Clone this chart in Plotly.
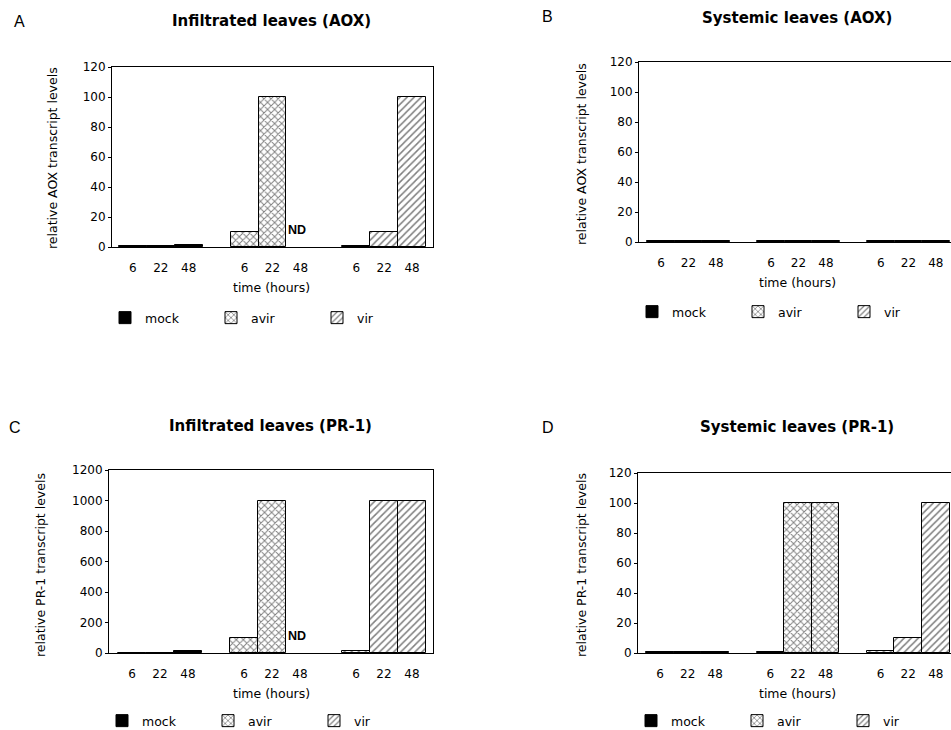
import plotly.graph_objects as go

W, H = 951, 730

times = ["6", "22", "48"]
treatments = ["mock", "avir", "vir"]

# panel values (relative transcript levels), None = not determined (ND)
A_mock = [1, 1, 1.5]
A_avir = [10, 100, None]
A_vir = [1, 10, 100]

B_mock = [0.5, 0.5, 0.5]
B_avir = [0.7, 0.7, 0.7]
B_vir = [1, 1, 1]

C_mock = [3, 3, 10]
C_avir = [100, 1000, None]
C_vir = [10, 1000, 1000]

D_mock = [0.5, 0.5, 0.8]
D_avir = [0.5, 100, 100]
D_vir = [1.5, 10, 100]

panels = [
    dict(letter="A", title="Infiltrated leaves (AOX)", ytitle="relative AOX transcript levels",
         data=[A_mock, A_avir, A_vir], ymax=120, dtick=20,
         px=(112, 433), py=(67, 247), xr=(-0.75, 10.75), rborder=True,
         letter_xy=(12, 21), title_xy=(271, 21), ytitle_xy=(52, 158), xtitle_xy=(271, 287),
         leg_xy=(112, 318)),
    dict(letter="B", title="Systemic leaves (AOX)", ytitle="relative AOX transcript levels",
         data=[B_mock, B_avir, B_vir], ymax=120, dtick=20,
         px=(639, 951), py=(62, 242), xr=(-0.8, 10.55), rborder=False,
         letter_xy=(540, 17), title_xy=(797, 18), ytitle_xy=(581, 154), xtitle_xy=(797, 282),
         leg_xy=(639, 312)),
    dict(letter="C", title="Infiltrated leaves (PR-1)", ytitle="relative PR-1 transcript levels",
         data=[C_mock, C_avir, C_vir], ymax=1200, dtick=200,
         px=(109, 433), py=(470, 653), xr=(-0.82, 10.75), rborder=True,
         letter_xy=(7, 427), title_xy=(270, 426), ytitle_xy=(40, 565), xtitle_xy=(271, 693),
         leg_xy=(109, 721)),
    dict(letter="D", title="Systemic leaves (PR-1)", ytitle="relative PR-1 transcript levels",
         data=[D_mock, D_avir, D_vir], ymax=120, dtick=20,
         px=(638, 951), py=(473, 653), xr=(-0.8, 10.55), rborder=False,
         letter_xy=(540, 427), title_xy=(797, 427), ytitle_xy=(581, 565), xtitle_xy=(797, 693),
         leg_xy=(638, 721)),
]

styles = {
    "mock": dict(color="black", line=dict(color="black", width=1)),
    "avir": dict(color="white", line=dict(color="black", width=1),
                 pattern=dict(shape="x", size=5, solidity=0.35, fgcolor="black", bgcolor="white")),
    "vir": dict(color="white", line=dict(color="black", width=1),
                pattern=dict(shape="/", size=5, solidity=0.3, fgcolor="black", bgcolor="white")),
}

FONT = "DejaVu Sans"
fig = go.Figure()
annotations = []
layout = {}

for i, p in enumerate(panels):
    n = i + 1
    xa = "x" if n == 1 else f"x{n}"
    ya = "y" if n == 1 else f"y{n}"
    lg = "legend" if n == 1 else f"legend{n}"
    tickvals, ticktext = [], []
    for g, (name, vals) in enumerate(zip(treatments, p["data"])):
        xs = [g * 4 + t for t in range(len(times))]
        tickvals += xs
        ticktext += times
        fig.add_trace(go.Bar(x=xs, y=vals, name=name, marker=styles[name], width=1,
                             xaxis=xa, yaxis=ya, legend=lg, showlegend=True))
        for x, v in zip(xs, vals):
            if v is None:
                annotations.append(dict(x=x - 0.5, y=0, xref=xa, yref=ya, text="<b>ND</b>",
                                        showarrow=False, xanchor="left", yanchor="bottom",
                                        xshift=0, yshift=8,
                                        font=dict(family="Liberation Sans", size=12.5, color="black")))
    x0, x1 = p["px"]
    y0, y1 = p["py"]
    layout[f"xaxis{'' if n == 1 else n}"] = dict(
        domain=[x0 / W, min(x1 / W, 1)], range=list(p["xr"]), anchor=ya,
        tickvals=tickvals, ticktext=ticktext, showgrid=False, zeroline=False,
        showline=True, linecolor="black", linewidth=1, mirror=True,
        ticks="outside", ticklen=10, tickcolor="rgba(0,0,0,0)", automargin=False,
        tickfont=dict(family=FONT, size=12, color="black"), fixedrange=True)
    layout[f"yaxis{'' if n == 1 else n}"] = dict(
        domain=[1 - y1 / H, 1 - y0 / H], range=[0, p["ymax"]], dtick=p["dtick"], anchor=xa,
        showgrid=False, zeroline=False, showline=True, linecolor="black", linewidth=1,
        mirror=p["rborder"], ticks="outside", ticklen=3, tickcolor="black", automargin=False,
        tickfont=dict(family=FONT, size=12, color="black"), fixedrange=True)
    lx, ly = p["leg_xy"]
    layout[lg] = dict(orientation="h", x=(lx - 7) / W, y=1 - ly / H, xanchor="left", yanchor="middle",
                      xref="paper", yref="paper", entrywidth=61, entrywidthmode="pixels",
                      font=dict(family=FONT, size=12.5, color="black"), bgcolor="rgba(0,0,0,0)",
                      traceorder="normal", itemclick=False, itemdoubleclick=False)
    # texts
    annotations.append(dict(x=p["letter_xy"][0] / W, y=1 - p["letter_xy"][1] / H, xref="paper", yref="paper",
                            text=p["letter"], showarrow=False, xanchor="left", yanchor="middle",
                            font=dict(family="Liberation Sans", size=16, color="black")))
    annotations.append(dict(x=p["title_xy"][0] / W, y=1 - p["title_xy"][1] / H, xref="paper", yref="paper",
                            text=f"<b>{p['title']}</b>", showarrow=False, xanchor="center", yanchor="middle",
                            font=dict(family=FONT, size=15, color="black")))
    annotations.append(dict(x=p["ytitle_xy"][0] / W, y=1 - p["ytitle_xy"][1] / H, xref="paper", yref="paper",
                            text=p["ytitle"], showarrow=False, xanchor="center", yanchor="middle",
                            textangle=-90, font=dict(family=FONT, size=12.5, color="black")))
    annotations.append(dict(x=p["xtitle_xy"][0] / W, y=1 - p["xtitle_xy"][1] / H, xref="paper", yref="paper",
                            text="time (hours)", showarrow=False, xanchor="center", yanchor="middle",
                            font=dict(family=FONT, size=12.5, color="black")))

fig.update_layout(width=W, height=H, margin=dict(l=0, r=0, t=0, b=0, autoexpand=False),
                  paper_bgcolor="white", plot_bgcolor="white",
                  bargap=0, barmode="overlay", annotations=annotations, **layout)

fig.write_html("out.html", config={"displayModeBar": False},
               post_script=(
                   "document.documentElement.style.margin='0';"
                   "document.documentElement.style.overflow='hidden';"
                   "document.body.style.margin='0';document.body.style.padding='0';"
                   "document.body.style.overflow='hidden';"
                   "var gd=document.getElementById('{plot_id}');"
                   "gd.style.position='fixed';gd.style.left='0px';gd.style.top='0px';"))
